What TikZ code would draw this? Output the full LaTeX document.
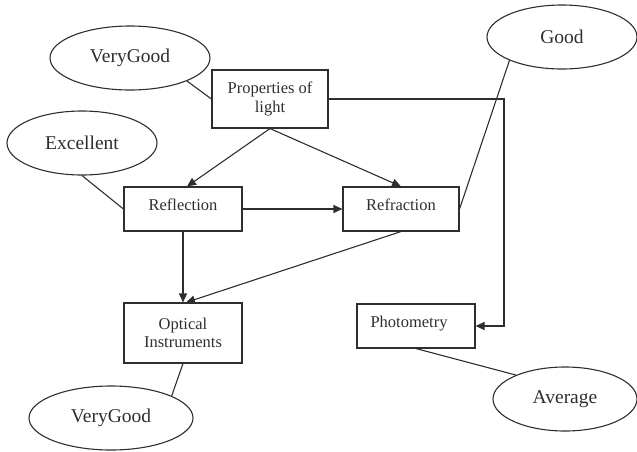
\documentclass[tikz,border=0pt]{standalone}
\usepackage{fontspec}
\setmainfont{Liberation Serif}
\usetikzlibrary{shapes.geometric,arrows.meta}
\definecolor{ink}{HTML}{2E2E2E}
\tikzset{
  box/.style={draw=ink, line width=1.1pt, rectangle, inner sep=0pt, text=ink,
    font=\fontsize{16.5}{18.5}\selectfont, align=center},
  rating/.style={draw=ink, line width=1.1pt, ellipse, inner sep=0pt, text=ink,
    minimum height=64pt, font=\fontsize{19.5}{22}\selectfont},
  link/.style={draw=ink, line width=1.1pt},
  flow/.style={draw=ink, line width=1.1pt, -{Triangle[length=9pt,width=8pt]}}
}
\begin{document}
\begin{tikzpicture}[x=1pt,y=-1pt]
\useasboundingbox (0,0) rectangle (637,451);

% topic boxes
\node[box, minimum width=116pt, minimum height=58pt] (prop) at (270,99) {Properties of\\light};
\node[box, minimum width=118pt, minimum height=44pt] (refl) at (183,209) {\raisebox{8pt}{Reflection}};
\node[box, minimum width=116pt, minimum height=44pt] (refr) at (401,209) {\raisebox{8pt}{Refraction}};
\node[box, minimum width=118pt, minimum height=60pt] (opt) at (183,333) {Optical\\Instruments};
\node[box, minimum width=118pt, minimum height=44pt] (phot) at (416,326) {\raisebox{8pt}{Photometry}\hspace{14pt}};

% ratings
\node[rating, minimum width=160pt] (vg1) at (130,58) {VeryGood};
\node[rating, minimum width=150pt] (exc) at (82,143) {Excellent};
\node[rating, minimum width=150pt] (good) at (562,37) {Good};
\node[rating, minimum width=164pt] (vg2) at (111,418) {VeryGood};
\node[rating, minimum width=144pt] (avg) at (565,399) {Average};

% rating links
\draw[link] (vg1.-22) -- (prop.west);
\draw[link] (exc.south) -- (refl.west);
\draw[link] (good.-156) -- (refr.east);
\draw[link] (opt.south) -- (vg2.20);
\draw[link] (phot.south) -- (avg.154);

% flow arrows
\draw[flow] (prop.south) -- ([xshift=4pt]refl.north);
\draw[flow] (prop.south) -- (refr.north);
\draw[flow] (refl.east) -- (refr.west);
\draw[flow] (refl.south) -- (opt.north);
\draw[flow] (refr.south) -- ([xshift=3pt]opt.north);
\coordinate (turn) at (504,99);
\draw[flow] (prop.east) -- (turn) |- (phot.east);
\end{tikzpicture}
\end{document}
